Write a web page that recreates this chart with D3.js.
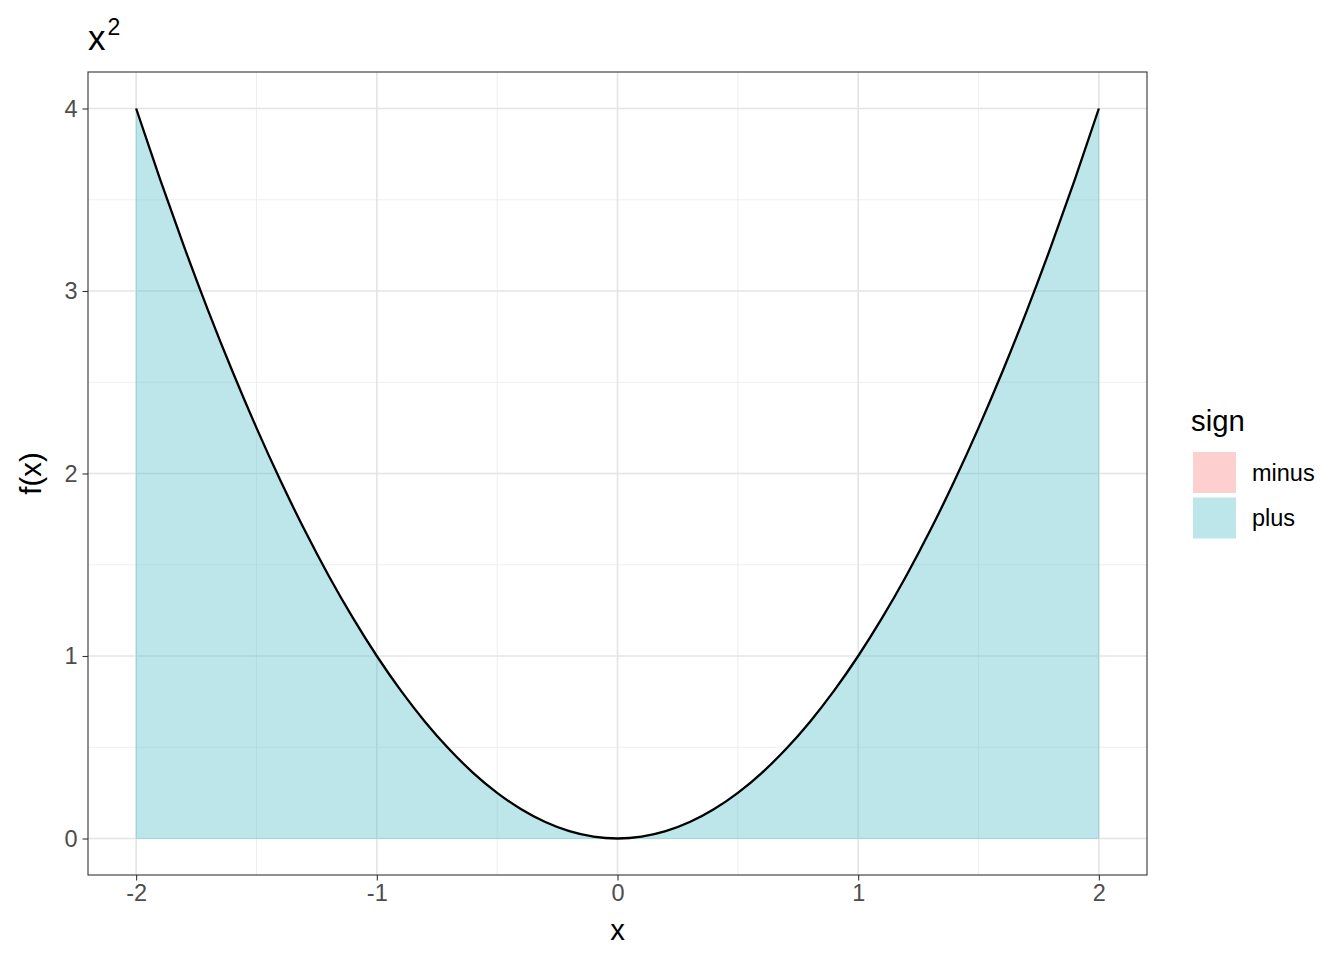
<!DOCTYPE html>
<html><head><meta charset="utf-8">
<script src="https://cdn.jsdelivr.net/npm/d3@7"></script>
<style>body{margin:0;background:#fff}svg{display:block}text{font-family:"Liberation Sans",Arial,sans-serif}</style>
</head><body><svg id="c" width="1344" height="960"></svg>
<script>
const xs = [-2,-1.9,-1.8,-1.7,-1.6,-1.5,-1.4,-1.3,-1.2,-1.1,-1,-0.9,-0.8,-0.7,-0.6,-0.5,-0.4,-0.3,-0.2,-0.1,0,0.1,0.2,0.3,0.4,0.5,0.6,0.7,0.8,0.9,1,1.1,1.2,1.3,1.4,1.5,1.6,1.7,1.8,1.9,2];
const ys = [4,3.61,3.24,2.89,2.56,2.25,1.96,1.69,1.44,1.21,1,0.81,0.64,0.49,0.36,0.25,0.16,0.09,0.04,0.01,0,0.01,0.04,0.09,0.16,0.25,0.36,0.49,0.64,0.81,1,1.21,1.44,1.69,1.96,2.25,2.56,2.89,3.24,3.61,4];
const signCats = ["minus","plus"];
const signColors = ["#FDCFCF","#BCE6E9"];
const xTicks = [-2,-1,0,1,2];
const yTicks = [0,1,2,3,4];
const xMinor = [-1.5,-0.5,0.5,1.5];
const yMinor = [0.5,1.5,2.5,3.5];
const titleBase = "x", titleSup = "2";

const pts = xs.map((x,i)=>({x, y: ys[i]}));
const svg = d3.select("#c");
const L=88,R=1147,T=72,B=875;
const x = d3.scaleLinear().domain([-2.2,2.2]).range([L,R]);
const y = d3.scaleLinear().domain([-0.2,4.2]).range([B,T]);
const color = d3.scaleOrdinal().domain(signCats).range(signColors);

const g = svg.append("g");
g.selectAll(".mnx").data(xMinor).join("line").attr("x1",d=>x(d)).attr("x2",d=>x(d)).attr("y1",T).attr("y2",B).attr("stroke","#EBEBEB").attr("stroke-width",0.8);
g.selectAll(".mny").data(yMinor).join("line").attr("y1",d=>y(d)).attr("y2",d=>y(d)).attr("x1",L).attr("x2",R).attr("stroke","#EBEBEB").attr("stroke-width",0.8);
g.selectAll(".mjx").data(xTicks).join("line").attr("x1",d=>x(d)).attr("x2",d=>x(d)).attr("y1",T).attr("y2",B).attr("stroke","#E4E4E4").attr("stroke-width",1.6);
g.selectAll(".mjy").data(yTicks).join("line").attr("y1",d=>y(d)).attr("y2",d=>y(d)).attr("x1",L).attr("x2",R).attr("stroke","#E4E4E4").attr("stroke-width",1.6);

const area = d3.area().x(d=>x(d.x)).y0(y(0)).y1(d=>y(d.y)).curve(d3.curveMonotoneX);
g.append("path").datum(pts).attr("d",area).attr("fill","#57C0C8").attr("fill-opacity",0.4)
 .attr("stroke","#57C0C8").attr("stroke-opacity",0.25).attr("stroke-width",1.2);
const line = d3.line().x(d=>x(d.x)).y(d=>y(d.y)).curve(d3.curveMonotoneX);
g.append("path").datum(pts).attr("d",line).attr("fill","none").attr("stroke","#000").attr("stroke-width",2.3);

g.append("rect").attr("x",L).attr("y",T).attr("width",R-L).attr("height",B-T).attr("fill","none").attr("stroke","#333").attr("stroke-width",1.1);

const fmt = d3.format("d");
const xa = svg.append("g").attr("transform",`translate(0,${B})`).call(d3.axisBottom(x).tickValues(xTicks).tickFormat(d=>fmt(d).replace("−","-")).tickSize(5.5).tickPadding(4));
const ya = svg.append("g").attr("transform",`translate(${L},0)`).call(d3.axisLeft(y).tickValues(yTicks).tickFormat(fmt).tickSize(5.5).tickPadding(5));
[xa,ya].forEach(a=>{a.select(".domain").remove();a.selectAll(".tick line").attr("stroke","#333").attr("stroke-width",1.1);
 a.selectAll("text").attr("fill","#4D4D4D").style("font-size","23.5px").style("font-family","Liberation Sans, Arial, sans-serif");});
xa.selectAll("text").attr("dy","0.71em");

svg.append("text").attr("x",(L+R)/2).attr("y",940).attr("text-anchor","middle").style("font-size","29.3px").text("x");
svg.append("text").attr("transform",`translate(41,${(T+B)/2}) rotate(-90)`).attr("text-anchor","middle").style("font-size","29.3px").text("f(x)");
const tt = svg.append("text").attr("x",88).attr("y",50).style("font-size","35px");
tt.append("tspan").text(titleBase);
tt.append("tspan").attr("dy",-15).attr("dx",2).style("font-size","23px").text(titleSup);

const lg = svg.append("g");
lg.append("text").attr("x",1191).attr("y",431).style("font-size","29.3px").text("sign");
signCats.forEach((c,i)=>{
  const yy = 452 + i*45.5;
  lg.append("rect").attr("x",1193).attr("y",yy).attr("width",43).attr("height",41).attr("fill",color(c));
  lg.append("text").attr("x",1252).attr("y",yy+20.5).attr("dy","0.35em").style("font-size","23.5px").text(c);
});
</script></body></html>
